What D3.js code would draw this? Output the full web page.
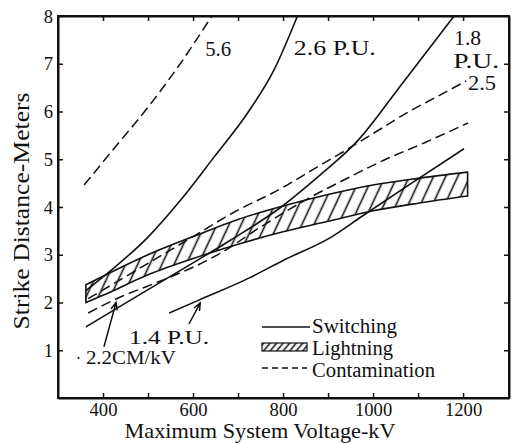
<!DOCTYPE html>
<html>
<head>
<meta charset="utf-8">
<script src="https://cdn.jsdelivr.net/npm/d3@7"></script>
<style>
  body { margin: 0; background: #fff; }
  svg text { font-family: "Liberation Serif", "DejaVu Serif", serif; fill: #111; }
</style>
</head>
<body>
<svg id="chart" width="512" height="444"></svg>
<script>
// axis ticks
const kvTicks = [400, 500, 600, 700, 800, 900, 1000, 1100, 1200];
const kvLabels = [400, 600, 800, 1000, 1200];
const meterTicks = [1, 2, 3, 4, 5, 6, 7, 8];

// switching surge curves, [kV, meters]
const sw26 = [[362, 2.25], [411, 2.62], [500, 3.37], [573, 4.15], [647, 5.05], [722, 5.98], [780, 6.87], [832, 8.0]];
const sw18 = [[362, 1.49], [500, 2.27], [600, 2.83], [684, 3.31], [796, 4.0], [880, 4.65], [967, 5.4], [1062, 6.55], [1180, 8.0]];
const sw14 = [[547, 1.78], [613, 2.05], [724, 2.51], [800, 2.88], [907, 3.37], [973, 3.79], [1084, 4.49], [1202, 5.22]];

// contamination curves
const c56 = [[358, 4.46], [424, 5.22], [500, 6.09], [570, 6.98], [642, 8.0]];
const c25 = [[367, 2.08], [500, 2.82], [600, 3.38], [689, 3.88], [802, 4.42], [869, 4.8], [936, 5.17], [1002, 5.55], [1084, 6.02], [1144, 6.32], [1207, 6.64]];
const c22 = [[367, 1.78], [440, 2.12], [493, 2.32], [551, 2.54], [629, 2.87], [664, 3.05], [750, 3.58], [862, 4.21], [936, 4.57], [1024, 4.98], [1113, 5.34], [1211, 5.76]];

// lightning band
const lightningKv = [362, 400, 500, 600, 700, 800, 900, 1000, 1100, 1210];
const lightningLow = [2.0, 2.15, 2.58, 2.92, 3.22, 3.48, 3.7, 3.92, 4.08, 4.23];
const lightningHigh = [2.37, 2.55, 3.0, 3.38, 3.74, 4.02, 4.26, 4.46, 4.6, 4.73];

const svg = d3.select("#chart");
const x = d3.scaleLinear().domain([300, 1302]).range([58, 509]);
const y = d3.scaleLinear().domain([0, 8]).range([398, 16]);

const defs = svg.append("defs");
defs.append("clipPath").attr("id", "plot")
  .append("rect").attr("x", 58).attr("y", 16).attr("width", 451).attr("height", 382);

function hatch(id, size, angle) {
  defs.append("pattern")
    .attr("id", id)
    .attr("width", size).attr("height", size)
    .attr("patternUnits", "userSpaceOnUse")
    .attr("patternTransform", `rotate(${angle})`)
    .append("line")
    .attr("x1", size / 2).attr("y1", 0)
    .attr("x2", size / 2).attr("y2", size)
    .attr("stroke", "#111").attr("stroke-width", 1.6);
}
hatch("hatch", 11, 25);
hatch("hatchSmall", 5, 40);

// axes
function styleAxis(g) {
  g.select(".domain").attr("stroke", "#111").attr("stroke-width", 2);
  g.selectAll(".tick line").attr("stroke", "#111").attr("stroke-width", 1.5);
  g.selectAll("text")
    .attr("font-family", "Liberation Serif, serif")
    .attr("font-size", 19)
    .attr("fill", "#111")
    .attr("lengthAdjust", "spacingAndGlyphs")
    .attr("textLength", function () { return this.textContent.length * 9.3; });
}

svg.append("g")
  .attr("transform", `translate(0,${y(0)})`)
  .call(d3.axisBottom(x).tickValues(kvTicks).tickSizeInner(-5).tickSizeOuter(0).tickPadding(5)
    .tickFormat(d => kvLabels.includes(d) ? d : ""))
  .call(styleAxis);

svg.append("g")
  .attr("transform", `translate(0,${y(8)})`)
  .call(d3.axisTop(x).tickValues(kvTicks).tickSizeInner(-5).tickSizeOuter(0).tickFormat(""))
  .call(styleAxis);

svg.append("g")
  .attr("transform", `translate(${x(300)},0)`)
  .call(d3.axisLeft(y).tickValues(meterTicks).tickSizeInner(-5).tickSizeOuter(0).tickPadding(5))
  .call(styleAxis);

svg.append("g")
  .attr("transform", `translate(${x(1302)},0)`)
  .call(d3.axisRight(y).tickValues(meterTicks.slice(0, 7)).tickSizeInner(-5).tickSizeOuter(0).tickFormat(""))
  .call(styleAxis);

// frame
svg.append("rect")
  .attr("x", x(300)).attr("y", y(8))
  .attr("width", x(1302) - x(300)).attr("height", y(0) - y(8))
  .attr("fill", "none").attr("stroke", "#111").attr("stroke-width", 2);

const plot = svg.append("g").attr("clip-path", "url(#plot)");

// lightning band
const band = lightningKv.map((kv, i) => ({kv: kv, lo: lightningLow[i], hi: lightningHigh[i]}));
plot.append("path")
  .datum(band)
  .attr("d", d3.area().x(d => x(d.kv)).y0(d => y(d.lo)).y1(d => y(d.hi)).curve(d3.curveMonotoneX))
  .attr("fill", "url(#hatch)")
  .attr("stroke", "#111")
  .attr("stroke-width", 1.6);

const line = d3.line().x(d => x(d[0])).y(d => y(d[1])).curve(d3.curveMonotoneX);

[c56, c25, c22].forEach(s => {
  plot.append("path").datum(s).attr("d", line)
    .attr("fill", "none").attr("stroke", "#111").attr("stroke-width", 1.5)
    .attr("stroke-dasharray", "10,5");
});

[sw26, sw18, sw14].forEach(s => {
  plot.append("path").datum(s).attr("d", line)
    .attr("fill", "none").attr("stroke", "#111").attr("stroke-width", 1.6);
});

// curve labels
const notes = [
  {text: "5.6", kv: 627, m: 7.16, w: 26, fs: 20},
  {text: "2.6 P.U.", kv: 824, m: 7.18, w: 82, fs: 20},
  {text: "1.8", kv: 1180, m: 7.39, w: 27, fs: 20},
  {text: "P.U.", kv: 1178, m: 6.91, w: 46, fs: 20},
  {text: "2.5", kv: 1211, m: 6.45, w: 28, fs: 20},
  {text: "1.4 P.U.", kv: 458, m: 1.13, w: 80, fs: 18},
  {text: "2.2CM/kV", kv: 362, m: 0.72, w: 90, fs: 18},
  {text: "·", kv: 340, m: 0.72, w: 5, fs: 18}
];
svg.append("g").selectAll("text")
  .data(notes)
  .enter()
  .append("text")
  .attr("x", d => x(d.kv))
  .attr("y", d => y(d.m))
  .attr("font-size", d => d.fs)
  .attr("textLength", d => d.w)
  .attr("lengthAdjust", "spacingAndGlyphs")
  .text(d => d.text);

// arrows pointing at curves
const arrows = [
  {from: [402, 1.07], to: [429, 2.0]},
  {from: [591, 1.55], to: [616, 1.99]}
];
arrows.forEach(a => {
  const x1 = x(a.from[0]), y1 = y(a.from[1]);
  const x2 = x(a.to[0]), y2 = y(a.to[1]);
  const ang = Math.atan2(y2 - y1, x2 - x1);
  const h = 8, spread = 0.4;
  svg.append("path")
    .attr("d", `M${x1},${y1}L${x2},${y2}` +
      `M${x2 - h * Math.cos(ang - spread)},${y2 - h * Math.sin(ang - spread)}L${x2},${y2}` +
      `L${x2 - h * Math.cos(ang + spread)},${y2 - h * Math.sin(ang + spread)}`)
    .attr("fill", "none").attr("stroke", "#111").attr("stroke-width", 1.5);
});

// legend
const legend = svg.append("g");
legend.append("line").attr("x1", 262).attr("x2", 310).attr("y1", 327).attr("y2", 327)
  .attr("stroke", "#111").attr("stroke-width", 1.5);
legend.append("rect").attr("x", 262).attr("y", 343).attr("width", 45).attr("height", 8)
  .attr("fill", "url(#hatchSmall)").attr("stroke", "#111").attr("stroke-width", 1.2);
legend.append("line").attr("x1", 262).attr("x2", 307).attr("y1", 368).attr("y2", 368)
  .attr("stroke", "#111").attr("stroke-width", 1.4).attr("stroke-dasharray", "6,4");
const legendText = [["Switching", 333, 85], ["Lightning", 355, 81], ["Contamination", 377, 123]];
legend.selectAll("text")
  .data(legendText)
  .enter()
  .append("text")
  .attr("x", 312)
  .attr("y", d => d[1])
  .attr("font-size", 20)
  .attr("textLength", d => d[2])
  .attr("lengthAdjust", "spacingAndGlyphs")
  .text(d => d[0]);

// axis titles
svg.append("text")
  .attr("x", 260).attr("y", 438)
  .attr("text-anchor", "middle")
  .attr("font-size", 21)
  .attr("textLength", 271)
  .attr("lengthAdjust", "spacingAndGlyphs")
  .text("Maximum System Voltage-kV");

svg.append("text")
  .attr("transform", "translate(29,211) rotate(-90)")
  .attr("text-anchor", "middle")
  .attr("font-size", 23)
  .attr("textLength", 237)
  .attr("lengthAdjust", "spacingAndGlyphs")
  .text("Strike Distance-Meters");
</script>
</body>
</html>
